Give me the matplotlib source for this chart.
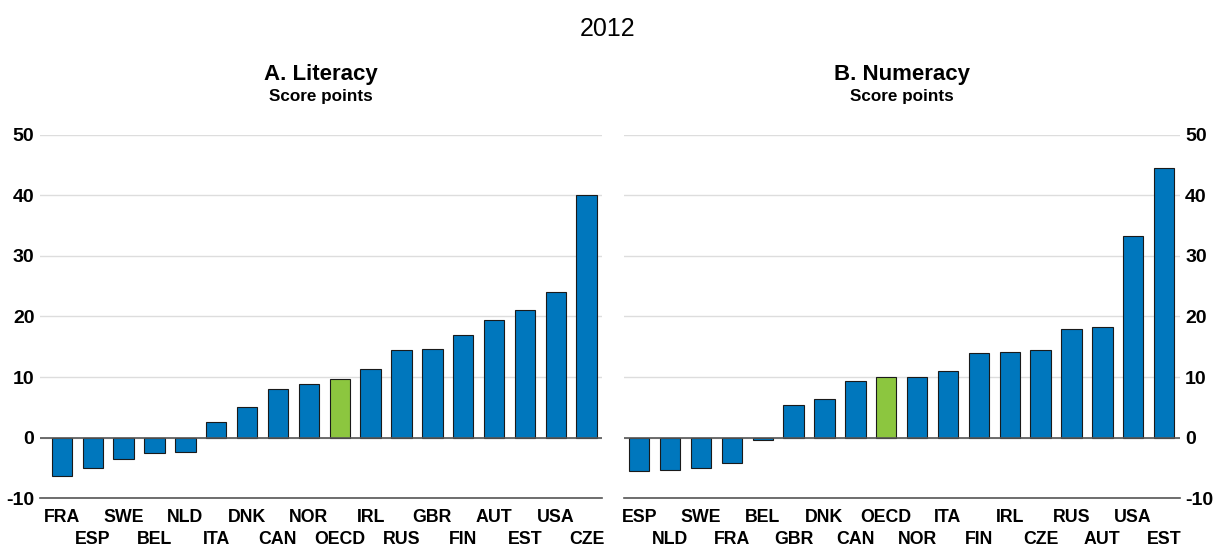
import matplotlib
matplotlib.use("Agg")
import matplotlib.pyplot as plt

plt.rcParams["font.family"] = ["Liberation Sans", "DejaVu Sans"]

LIT_COUNTRIES = ["FRA", "ESP", "SWE", "BEL", "NLD", "ITA", "DNK", "CAN", "NOR",
                 "OECD", "IRL", "RUS", "GBR", "FIN", "AUT", "EST", "USA", "CZE"]
LIT_VALUES = [-6.3, -5.0, -3.5, -2.5, -2.3, 2.6, 5.1, 8.1, 8.8,
              9.6, 11.4, 14.4, 14.6, 17.0, 19.4, 21.0, 24.0, 40.0]

NUM_COUNTRIES = ["ESP", "NLD", "SWE", "FRA", "BEL", "GBR", "DNK", "CAN", "OECD",
                 "NOR", "ITA", "FIN", "IRL", "CZE", "RUS", "AUT", "USA", "EST"]
NUM_VALUES = [-5.5, -5.4, -5.1, -4.2, -0.4, 5.3, 6.3, 9.3, 10.0,
              10.0, 11.0, 13.9, 14.1, 14.4, 18.0, 18.2, 33.3, 44.5]

Y_TICKS = [-10, 0, 10, 20, 30, 40, 50]

BLUE = "#0077BD"
GREEN = "#8CC63F"


def draw_panel(ax, countries, values, title, xlim, right=False):
    colors = [GREEN if c == "OECD" else BLUE for c in countries]
    x = list(range(len(countries)))
    ax.bar(x, values, width=0.66, color=colors, edgecolor="#1a1a1a",
           linewidth=0.8, zorder=3)
    ax.set_ylim(-10, 50)
    ax.set_xlim(*xlim)
    ax.set_yticks(Y_TICKS)
    ax.set_yticklabels([str(t) for t in Y_TICKS], fontsize=14, fontweight="bold")
    ax.yaxis.grid(True, color="#dddddd", linewidth=1, zorder=0)
    ax.axhline(0, color="#555555", linewidth=1.2, zorder=4)

    # country labels on two staggered rows: major ticks top row, minor bottom row
    ax.set_xticks(x[0::2])
    ax.set_xticklabels(countries[0::2], fontsize=12.8, fontweight="bold")
    ax.set_xticks(x[1::2], minor=True)
    ax.set_xticklabels(countries[1::2], minor=True, fontsize=12.8, fontweight="bold")
    ax.tick_params(axis="x", which="major", length=0, pad=8)
    ax.tick_params(axis="x", which="minor", length=0, pad=24)
    ax.tick_params(axis="y", length=0, pad=4)

    for side in ["top", "left", "right"]:
        ax.spines[side].set_visible(False)
    ax.spines["bottom"].set_color("#555555")
    ax.spines["bottom"].set_linewidth(1.2)
    if right:
        ax.yaxis.tick_right()

    ax.text(0.5, 1.15, title, transform=ax.transAxes, ha="center",
            fontsize=16, fontweight="bold")
    ax.text(0.5, 1.093, "Score points", transform=ax.transAxes, ha="center",
            fontsize=12.3, fontweight="bold")


fig = plt.figure(figsize=(12.16, 5.48), dpi=100)
ax1 = fig.add_axes([0.0329, 0.091, 0.462, 0.663])
ax2 = fig.add_axes([0.513, 0.091, 0.457, 0.663])

draw_panel(ax1, LIT_COUNTRIES, LIT_VALUES, "A. Literacy", (-0.71, 17.49))
draw_panel(ax2, NUM_COUNTRIES, NUM_VALUES, "B. Numeracy", (-0.5, 17.5), right=True)

fig.text(0.5, 0.935, "2012", ha="center", fontsize=18)

fig.savefig("out.png", dpi=100)
